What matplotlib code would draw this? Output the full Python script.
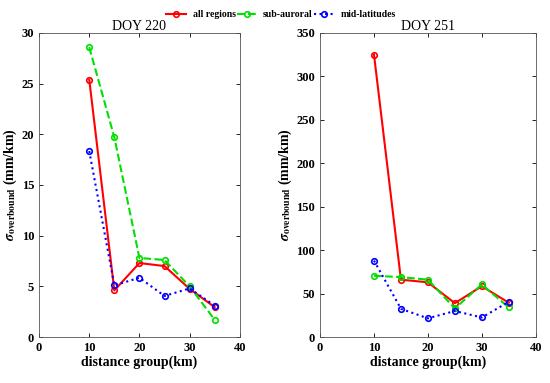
import matplotlib.pyplot as plt
import numpy as np

plt.rcParams['font.family'] = ['Liberation Serif', 'DejaVu Serif']
plt.rcParams['mathtext.fontset'] = 'stix'

# distance groups (km)
dist = [10, 15, 20, 25, 30, 35]

# DOY 220
all_220 = [25.4, 4.6, 7.3, 7.0, 4.75, 2.95]
sub_220 = [28.6, 19.7, 7.8, 7.6, 5.0, 1.7]
mid_220 = [18.35, 5.1, 5.85, 4.05, 4.8, 3.1]

# DOY 251
all_251 = [325, 66, 63, 39, 58.5, 39.5]
sub_251 = [70.5, 69, 66, 33, 60.5, 34]
mid_251 = [88, 32.5, 21.5, 30, 22.5, 40.5]

fig = plt.figure(figsize=(5.5, 3.83), dpi=100)
ax1 = fig.add_axes([0.071, 0.12, 0.365, 0.794])
ax2 = fig.add_axes([0.582, 0.12, 0.392, 0.794])

panels = [(ax1, all_220, sub_220, mid_220, 'DOY 220', 30, 5),
          (ax2, all_251, sub_251, mid_251, 'DOY 251', 350, 50)]

for ax, a, s, m, title, ymax, ystep in panels:
    l1, = ax.plot(dist, a, '-o', color='red', lw=1.5, ms=4, mfc='none', mew=1.2,
                  label='all regions')
    l2, = ax.plot(dist, s, '--o', color='#00e000', lw=1.5, ms=4, mfc='none', mew=1.2,
                  label='sub-auroral')
    l3, = ax.plot(dist, m, ':o', color='blue', lw=1.5, ms=4, mfc='none', mew=1.2,
                  label='mid-latitudes')
    ax.set_xlim(0, 40)
    ax.set_ylim(0, ymax)
    ax.set_xticks(np.arange(0, 41, 10))
    ax.set_yticks(np.arange(0, ymax + 1, ystep))
    ax.tick_params(direction='in', top=True, right=True, length=3, labelsize=9,
                   width=0.6)
    for lab in ax.get_xticklabels() + ax.get_yticklabels():
        lab.set_fontweight('bold')
    for sp in ax.spines.values():
        sp.set_color('#555555')
        sp.set_linewidth(0.6)
    ax.set_title(title, fontsize=10, pad=2)
    ax.set_xlabel('distance group(km)', fontsize=10, fontweight='bold', labelpad=1)
    ax.set_ylabel(r'$\boldsymbol{\sigma}_{\mathbf{overbound}}$ (mm/km)', fontsize=10,
                  fontweight='bold', labelpad=2)

fig.legend(handles=[l1, l2, l3], loc='center', bbox_to_anchor=(0.511, 0.961),
           ncol=3, frameon=False, prop={'weight': 'bold', 'size': 7},
           handlelength=2.0, columnspacing=0.15, handletextpad=0.7, borderpad=0)

fig.savefig('out.png', dpi=100)
